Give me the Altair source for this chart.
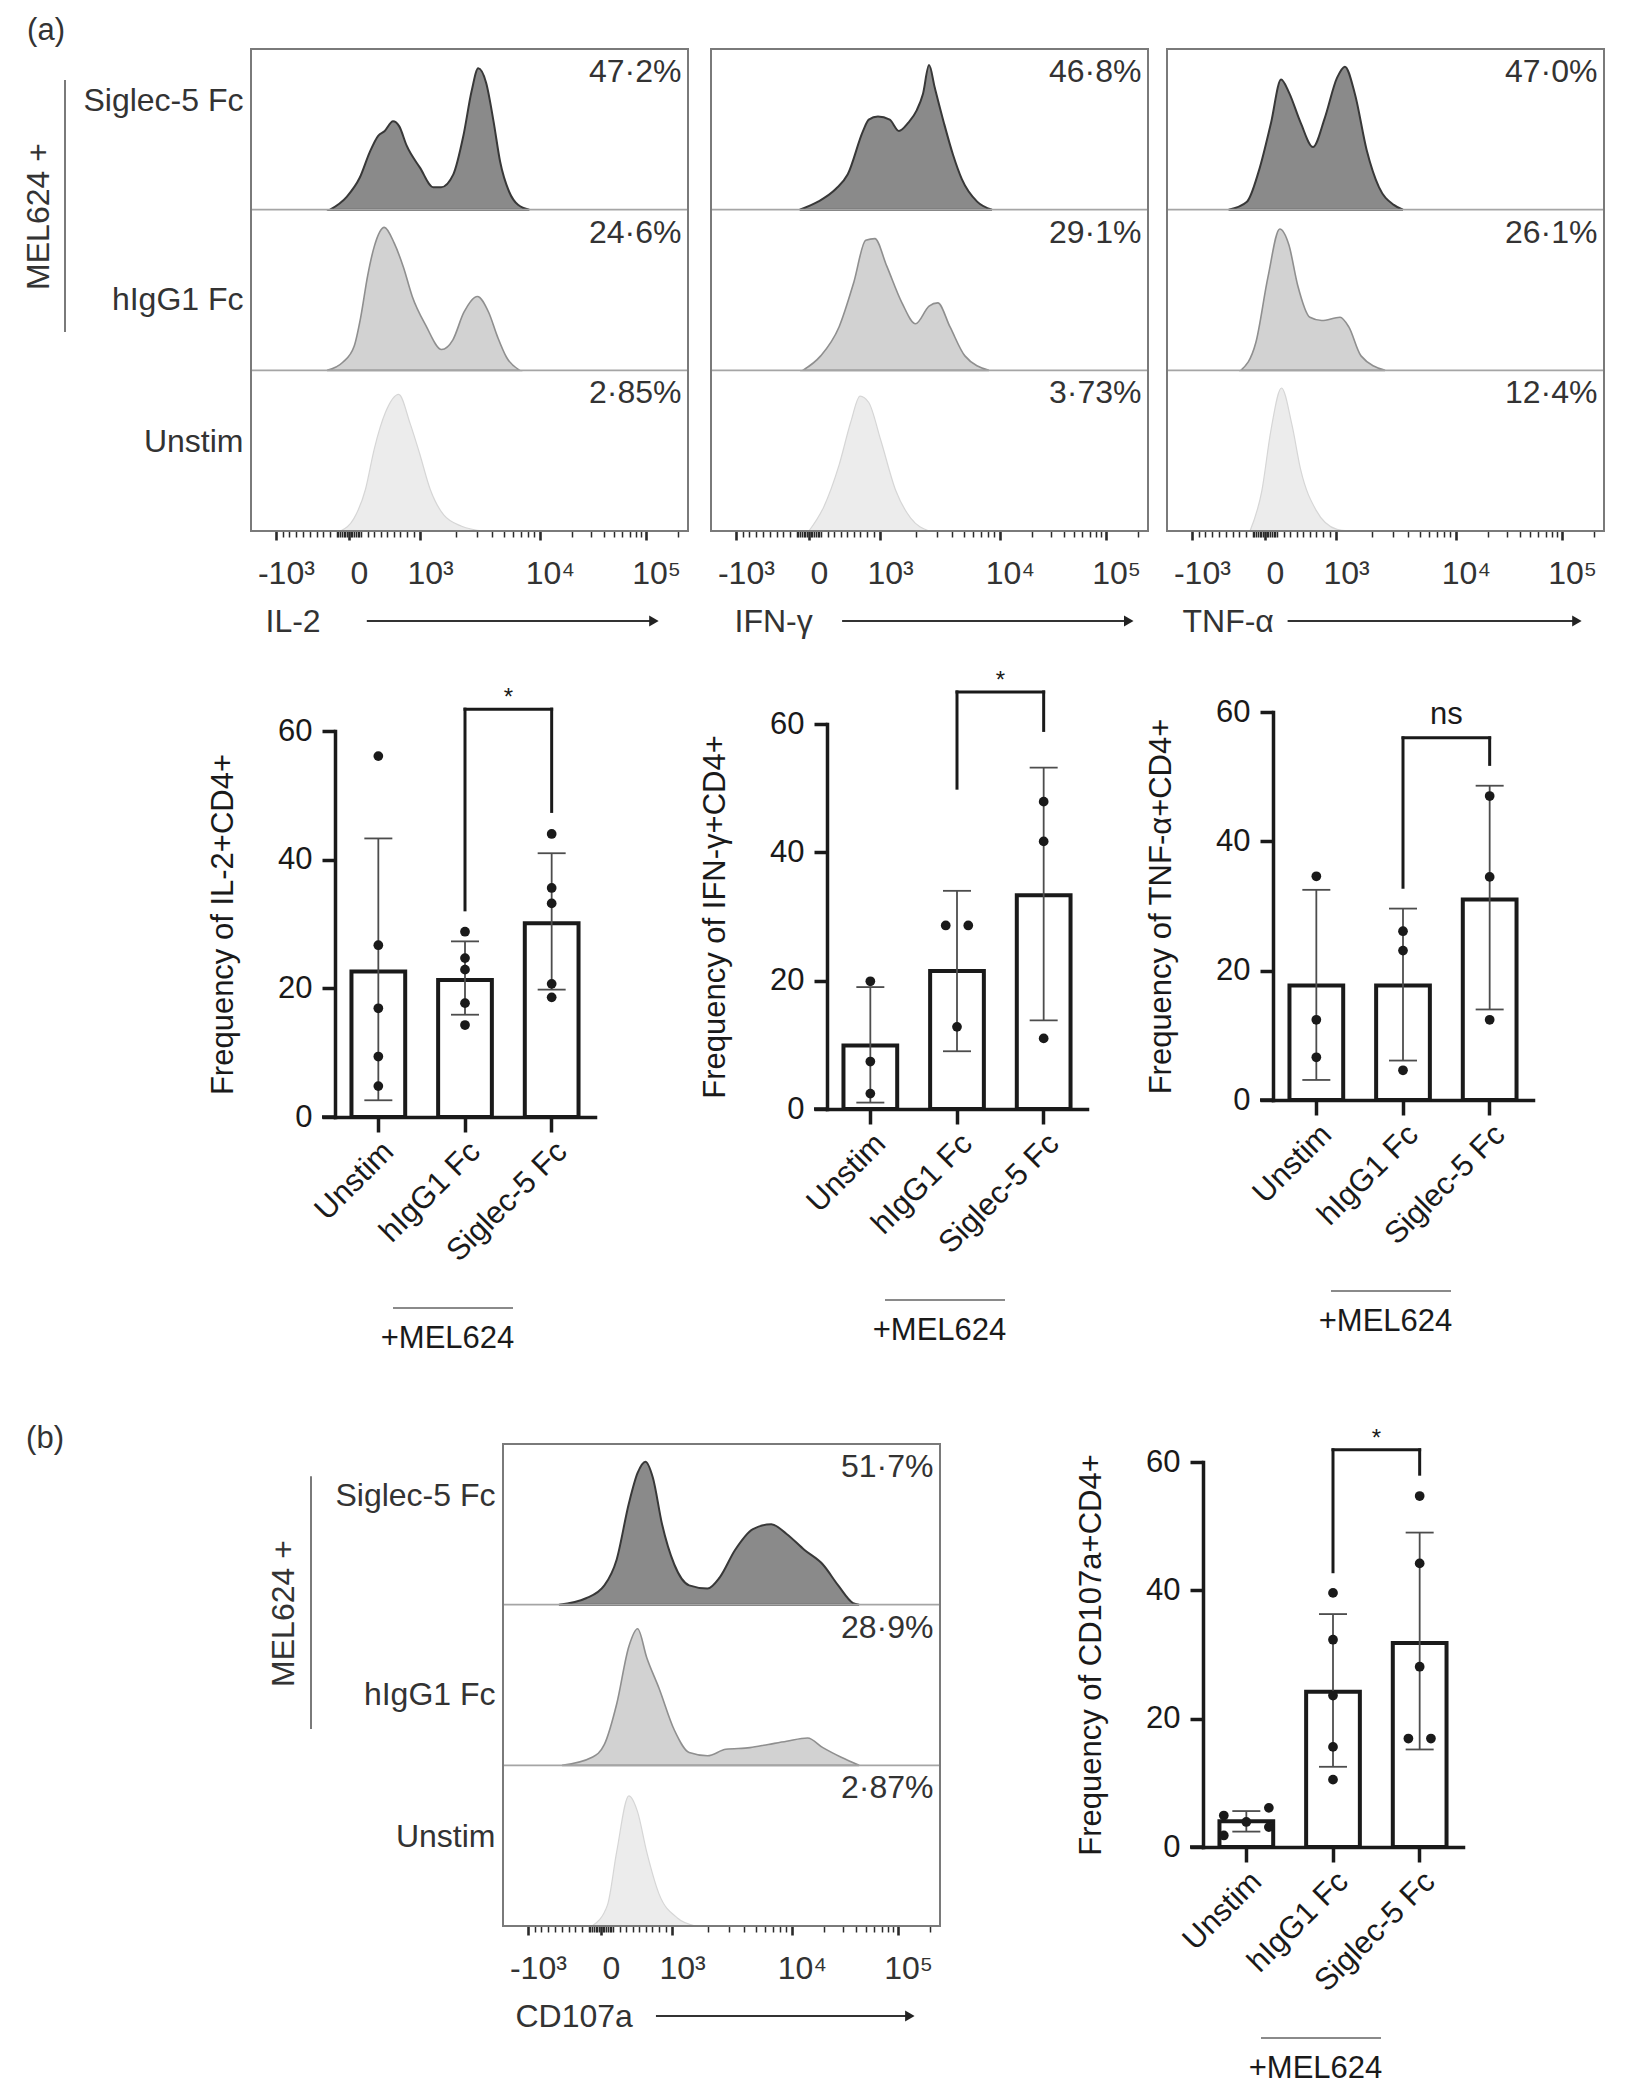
import math
import altair as alt
import pandas as pd

FONT = "Liberation Sans"
DARK = "#333333"
INK = "#1a1a1a"
W_ALL, H_ALL = 1615, 2084

ROW_NAMES = ["Siglec-5 Fc", "hIgG1 Fc", "Unstim"]      # histogram rows, top to bottom
GROUPS = ["Unstim", "hIgG1 Fc", "Siglec-5 Fc"]         # bar order

# ---------------- flow histograms ----------------
# x: display channel across the biexponential axis (0-1000), h: height as share of the row
IL2_SIG_X = [181, 219, 249, 272, 291, 306, 325, 339, 356, 387, 417, 435, 463, 486, 505, 520, 538, 555, 570, 591, 611, 637]
IL2_SIG_H = [0, .08, .20, .36, .46, .49, .55, .52, .40, .26, .14, .14, .22, .46, .74, .88, .79, .55, .30, .11, .03, 0]
IL2_IGG_X = [174, 210, 236, 251, 267, 282, 305, 328, 349, 369, 400, 436, 462, 487, 518, 544, 564, 585, 615]
IL2_IGG_H = [0, .05, .15, .33, .59, .77, .89, .79, .64, .46, .28, .13, .19, .36, .46, .36, .21, .08, 0]
IL2_UNS_X = [205, 236, 262, 282, 308, 338, 364, 385, 410, 441, 482, 533]
IL2_UNS_H = [0, .08, .26, .51, .74, .85, .67, .49, .26, .10, .03, 0]
IL2_PCT = ["47·2%", "24·6%", "2·85%"]

IFN_SIG_X = [203, 245, 286, 313, 348, 361, 382, 409, 430, 451, 471, 485, 499, 512, 533, 554, 574, 609, 643]
IFN_SIG_H = [0, .05, .13, .22, .49, .56, .58, .56, .49, .54, .62, .72, .90, .76, .54, .34, .19, .05, 0]
IFN_IGG_X = [210, 251, 293, 327, 354, 375, 402, 437, 468, 499, 519, 547, 581, 636]
IFN_IGG_H = [0, .09, .27, .55, .81, .82, .65, .42, .29, .40, .42, .27, .09, 0]
IFN_UNS_X = [224, 258, 293, 320, 341, 361, 389, 423, 457, 499]
IFN_UNS_H = [0, .15, .41, .68, .84, .80, .56, .25, .08, 0]
IFN_PCT = ["46·8%", "29·1%", "3·73%"]

TNF_SIG_X = [141, 183, 210, 238, 261, 279, 306, 334, 361, 389, 407, 430, 457, 485, 519, 540]
TNF_SIG_H = [0, .05, .24, .54, .81, .73, .54, .39, .57, .82, .89, .72, .37, .14, .03, 0]
TNF_IGG_X = [169, 203, 231, 258, 279, 299, 327, 354, 396, 416, 444, 499]
TNF_IGG_H = [0, .17, .58, .88, .78, .53, .33, .31, .33, .27, .09, 0]
TNF_UNS_X = [190, 217, 238, 262, 286, 306, 341, 389, 416]
TNF_UNS_H = [0, .25, .63, .89, .66, .38, .13, .01, 0]
TNF_PCT = ["47·0%", "26·1%", "12·4%"]

CD_SIG_X = [128, 190, 232, 260, 288, 308, 326, 343, 364, 392, 426, 468, 496, 531, 572, 614, 649, 690, 732, 767, 801, 815]
CD_SIG_H = [0, .04, .12, .28, .63, .82, .89, .79, .50, .25, .12, .10, .17, .34, .47, .50, .44, .34, .25, .12, .01, 0]
CD_IGG_X = [135, 204, 232, 260, 288, 308, 329, 357, 392, 426, 468, 510, 565, 607, 649, 697, 732, 774, 815]
CD_IGG_H = [0, .05, .13, .38, .74, .85, .67, .48, .22, .08, .06, .10, .11, .13, .15, .17, .11, .05, 0]
CD_UNS_X = [204, 239, 260, 288, 308, 329, 357, 399, 440]
CD_UNS_H = [0, .13, .46, .81, .71, .46, .20, .05, 0]
CD_PCT = ["51·7%", "28·9%", "2·87%"]

# biexponential axis: major ticks (channel) and their labels
MAJOR_TICKS = [57, 224, 387, 661, 904]
MAJOR_LABELS = ["-10³", "0", "10³", "10⁴", "10⁵"]

# ---------------- bar charts ----------------
IL2_MEAN = [22.6, 21.3, 30.1]
IL2_LO = [2.6, 15.9, 19.8]
IL2_HI = [43.3, 27.3, 41.0]
IL2_PTS = [[56.1, 26.7, 16.9, 9.4, 4.8], [28.8, 24.7, 22.9, 17.7, 14.3], [44.0, 35.6, 33.2, 20.7, 18.6]]
IL2_JIT = [[0, 0, 0, 0, 0], [0, 0, 0, 0, 0], [0, 0, 0, 0, 0]]
IL2_BRACKET = ["hIgG1 Fc", "Siglec-5 Fc", 63.4, 32.2, 47.5, "*"]

IFN_MEAN = [9.9, 21.5, 33.3]
IFN_LO = [1.0, 9.0, 13.8]
IFN_HI = [19.0, 34.0, 53.2]
IFN_PTS = [[19.9, 7.4, 2.4], [28.6, 28.6, 12.8], [47.9, 41.7, 11.0]]
IFN_JIT = [[0, 0, 0], [-1, 1, 0], [0, 0, 0]]
IFN_BRACKET = ["hIgG1 Fc", "Siglec-5 Fc", 65.0, 50.0, 59.0, "*"]

TNF_MEAN = [17.7, 17.7, 31.0]
TNF_LO = [3.1, 6.1, 14.0]
TNF_HI = [32.5, 29.6, 48.6]
TNF_PTS = [[34.6, 12.4, 6.6], [26.1, 23.1, 4.6], [47.0, 34.5, 12.4]]
TNF_JIT = [[0, 0, 0], [0, 0, 0], [0, 0, 0]]
TNF_BRACKET = ["hIgG1 Fc", "Siglec-5 Fc", 56.0, 32.9, 51.9, "ns"]

CD_MEAN = [4.0, 24.2, 31.8]
CD_LO = [2.4, 12.5, 15.2]
CD_HI = [5.6, 36.3, 49.0]
CD_PTS = [[4.9, 1.8, 3.9, 6.1, 3.1], [39.6, 32.3, 23.6, 15.6, 10.5], [54.7, 44.2, 28.1, 16.9, 16.9]]
CD_JIT = [[-2, -2, 0, 2, 2], [0, 0, 0, 0, 0], [0, 0, 0, -1, 1]]
CD_BRACKET = ["hIgG1 Fc", "Siglec-5 Fc", 61.9, 42.9, 58.1, "*"]

# ---------------- helpers ----------------
ONE = pd.DataFrame({"k": [0]})

minor = ([round(57 + 15.5 * k, 1) for k in range(1, 10)]
         + [200 + 4 * k for k in range(13) if 200 + 4 * k != 224]
         + [387 - 15 * k for k in range(1, 10)]
         + [round(387 + 274 * math.log10(k), 1) for k in range(2, 10)]
         + [round(661 + 243 * math.log10(k), 1) for k in range(2, 10)]
         + [977])
ALL_TICKS = sorted(set(MAJOR_TICKS + minor))
LABEL_EXPR = " : ".join(f"datum.value == {v} ? '{l}'" for v, l in zip(MAJOR_TICKS, MAJOR_LABELS)) + " : ''"
MAJOR_TEST = "indexof([" + ",".join(str(v) for v in MAJOR_TICKS) + "], datum.value) >= 0"
ROW_LABEL_Y = [2.68, 1.44, 0.56]
ROW_EXPR = "datum.value > 2 ? 'Siglec-5 Fc' : datum.value > 1 ? 'hIgG1 Fc' : 'Unstim'"
GROUP_JS = "[" + ",".join(f"'{g}'" for g in GROUPS) + "]"


def hist_layers(p):
    x0, x1, top, bot = p["frame"]
    xs = alt.Scale(domain=[0, 1000], range=[x0, x1], nice=False, zero=False)
    ys = alt.Scale(domain=[0, 3], range=[bot, top], nice=False, zero=False)
    out = []
    styles = [(2, "#8a8a8a", "#383838", 2.0), (1, "#d2d2d2", "#8f8f8f", 1.6), (0, "#ececec", "#d6d6d6", 1.2)]
    for (cx, ch), (off, fill, stroke, sw) in zip(p["curves"], styles):
        df = pd.DataFrame({"ch": cx, "h": ch})
        out.append(
            alt.Chart(df).transform_calculate(top=f"datum.h + {off}")
            .mark_area(fill=fill, stroke=stroke, strokeWidth=sw, interpolate="monotone", opacity=1)
            .encode(x=alt.X("ch:Q", scale=xs, axis=None),
                    y=alt.Y("top:Q", scale=ys, axis=None),
                    y2=alt.Y2Datum(off)))
    for d in (1, 2):
        out.append(alt.Chart(ONE).mark_rule(color="#a5a5a5", strokeWidth=1.6).encode(
            x=alt.XDatum(0, type="quantitative", scale=xs, axis=None), x2=alt.X2Datum(1000),
            y=alt.YDatum(d, type="quantitative", scale=ys, axis=None)))
    xaxis = alt.Axis(orient="bottom", offset=bot - H_ALL, domain=False, grid=False, values=ALL_TICKS,
                     labelExpr=LABEL_EXPR,
                     tickSize={"condition": {"test": MAJOR_TEST, "value": 9}, "value": 6},
                     tickWidth={"condition": {"test": MAJOR_TEST, "value": 2.6}, "value": 1.5},
                     tickColor="#2a2a2a", labelFontSize=32, labelColor=DARK, labelPadding=18,
                     labelOffset=10, labelOverlap=False, labelFlush=False, labelBound=False,
                     title=p["title"], titleX=x0 + p["title_dx"], titleY=90, titleAlign="left",
                     titleBaseline="middle", titleFontSize=32, titleFontWeight="normal", titleColor=DARK)
    if p["rows"]:
        mcx, mcy = p["mel_center"]
        yaxis = alt.Axis(orient="left", offset=-x0, values=ROW_LABEL_Y, labelExpr=ROW_EXPR, ticks=False,
                         domain=False, grid=False, labelPadding=8, labelFontSize=32, labelColor=DARK,
                         labelLimit=400, title="MEL624 +", titleX=mcx - x0, titleY=mcy, titleAngle=270,
                         titleAlign="center", titleBaseline="middle", titleFontSize=32,
                         titleFontWeight="normal", titleColor=DARK)
    else:
        yaxis = None
    out.append(alt.Chart(ONE).mark_rect(fillOpacity=0, stroke="#7a7a7a", strokeWidth=2).encode(
        x=alt.XDatum(0, type="quantitative", scale=xs, axis=xaxis), x2=alt.X2Datum(1000),
        y=alt.YDatum(0, type="quantitative", scale=ys, axis=yaxis), y2=alt.Y2Datum(3)))
    pct = pd.DataFrame({"pct": p["pct"], "ytop": [3, 2, 1]})
    out.append(alt.Chart(pct).mark_text(align="right", baseline="middle", dy=23, fontSize=32, color=DARK).encode(
        x=alt.XDatum(985, type="quantitative", scale=xs, axis=None),
        y=alt.Y("ytop:Q", scale=ys, axis=None), text="pct:N"))
    a0, a1 = p["arrow"]
    out.append(alt.Chart(ONE).mark_rule(color=DARK, strokeWidth=1.8).encode(
        x=alt.XDatum(a0, type="quantitative", scale=xs, axis=None), x2=alt.X2Datum(a1 - 10),
        y=alt.value(bot + 90)))
    out.append(alt.Chart(ONE).mark_point(shape="triangle-right", filled=True, size=120, color="#222222",
                                         opacity=1, strokeWidth=0).encode(
        x=alt.XDatum(a1 - 12, type="quantitative", scale=xs, axis=None), y=alt.value(bot + 90)))
    if p["rows"]:
        lx, yt, yb = p["mel_line"]
        out.append(alt.Chart(ONE).mark_rule(color="#7a7a7a", strokeWidth=2).encode(
            x=alt.value(lx), y=alt.YDatum(yt, type="quantitative", scale=ys, axis=None), y2=alt.Y2Datum(yb)))
    return out


def bar_layers(b):
    x0, y0, y60 = b["x0"], b["y0"], b["y60"]
    x1 = x0 + 260
    xb = alt.Scale(domain=GROUPS, range=[x0, x1], paddingInner=0.38, paddingOuter=0.19)
    xl = alt.Scale(domain=[0, 3], range=[x0, x1], nice=False, zero=False)
    ys = alt.Scale(domain=[0, 60], range=[y0, y60], nice=False, zero=False)
    out = []
    bars = pd.DataFrame({"group": GROUPS, "mean": b["mean"]})
    xaxis = alt.Axis(orient="bottom", offset=y0 - H_ALL, grid=False, domainColor=INK, domainWidth=3.5,
                     domainCap="square", tickColor=INK, tickWidth=3.5, tickSize=15, labelAngle=315,
                     labelFontSize=31, labelColor=INK, labelPadding=4, labelLimit=400,
                     title="+MEL624", titleX=x0 + 112, titleY=221, titleAlign="center", titleBaseline="middle",
                     titleFontSize=31, titleFontWeight="normal", titleColor=INK)
    yaxis = alt.Axis(orient="left", offset=-x0, values=[0, 20, 40, 60], grid=False, domainColor=INK,
                     domainWidth=3.5, domainCap="square", tickColor=INK, tickWidth=3.5, tickSize=13,
                     labelFontSize=31, labelColor=INK, labelPadding=10,
                     title=b["ytitle"], titleX=-112, titleY=(y0 + y60) / 2, titleAngle=270,
                     titleAlign="center", titleBaseline="middle", titleFontSize=31,
                     titleFontWeight="normal", titleColor=INK)
    out.append(alt.Chart(bars).mark_bar(fill="white", stroke=INK, strokeWidth=4).encode(
        x=alt.X("group:N", sort=GROUPS, scale=xb, axis=xaxis),
        y=alt.Y("mean:Q", scale=ys, axis=yaxis)))
    out.append(alt.Chart(ONE).mark_rule(color=INK, strokeWidth=3.5).encode(
        x=alt.value(x0 - 13), x2=alt.value(x0), y=alt.YDatum(0, type="quantitative", scale=ys, axis=None)))
    err = pd.DataFrame({"group": GROUPS, "lo": b["lo"], "hi": b["hi"]})
    pos = f"indexof({GROUP_JS}, datum.group) + 0.5"
    out.append(alt.Chart(err).transform_calculate(xpos=pos).mark_rule(color="#4d4d4d", strokeWidth=1.8).encode(
        x=alt.X("xpos:Q", scale=xl, axis=None), y=alt.Y("lo:Q", scale=ys, axis=None), y2="hi:Q"))
    out.append(alt.Chart(err).transform_calculate(xpos=pos).transform_fold(["lo", "hi"], as_=["which", "val"])
               .mark_tick(orient="horizontal", size=28, thickness=1.8, color="#4d4d4d", opacity=1).encode(
        x=alt.X("xpos:Q", scale=xl, axis=None), y=alt.Y("val:Q", scale=ys, axis=None)))
    rows = []
    for g, vals, jits in zip(GROUPS, b["pts"], b["jit"]):
        for v, j in zip(vals, jits):
            rows.append({"group": g, "v": v, "jit": j})
    pts = pd.DataFrame(rows)
    out.append(alt.Chart(pts).transform_calculate(xpos=pos + " + datum.jit * 0.13")
               .mark_circle(size=95, color=INK, opacity=1).encode(
        x=alt.X("xpos:Q", scale=xl, axis=None), y=alt.Y("v:Q", scale=ys, axis=None)))
    g1, g2, topv, lb, rb, lab = b["bracket"]
    br = pd.DataFrame({"g1": [g1], "g2": [g2], "top": [topv], "lb": [lb], "rb": [rb], "lab": [lab]})
    calc = dict(xa=f"indexof({GROUP_JS}, datum.g1) + 0.5", xb=f"indexof({GROUP_JS}, datum.g2) + 0.5")
    base = alt.Chart(br).transform_calculate(**calc)
    out.append(base.mark_rule(color=INK, strokeWidth=3, strokeCap="square").encode(
        x=alt.X("xa:Q", scale=xl, axis=None), y=alt.Y("lb:Q", scale=ys, axis=None), y2="top:Q"))
    out.append(base.mark_rule(color=INK, strokeWidth=3, strokeCap="square").encode(
        x=alt.X("xb:Q", scale=xl, axis=None), y=alt.Y("rb:Q", scale=ys, axis=None), y2="top:Q"))
    out.append(base.mark_rule(color=INK, strokeWidth=3, strokeCap="square").encode(
        x=alt.X("xa:Q", scale=xl, axis=None), x2="xb:Q", y=alt.Y("top:Q", scale=ys, axis=None)))
    star = lab == "*"
    out.append(base.transform_calculate(xm="(datum.xa + datum.xb) / 2").mark_text(
        fontSize=24 if star else 31, baseline="alphabetic", dy=-4 if star else -14, color=INK).encode(
        x=alt.X("xm:Q", scale=xl, axis=None), y=alt.Y("top:Q", scale=ys, axis=None), text="lab:N"))
    out.append(alt.Chart(ONE).mark_rule(color="#8a8a8a", strokeWidth=2).encode(
        x=alt.value(x0 + 58), x2=alt.value(x0 + 178), y=alt.value(y0 + 191)))
    return out


hists = [
    dict(frame=(243, 680, 41, 523), curves=[(IL2_SIG_X, IL2_SIG_H), (IL2_IGG_X, IL2_IGG_H), (IL2_UNS_X, IL2_UNS_H)],
         pct=IL2_PCT, title="IL-2", title_dx=14, arrow=(265, 934), rows=True,
         mel_center=(30, 208), mel_line=(57, 2.807, 1.239)),
    dict(frame=(703, 1140, 41, 523), curves=[(IFN_SIG_X, IFN_SIG_H), (IFN_IGG_X, IFN_IGG_H), (IFN_UNS_X, IFN_UNS_H)],
         pct=IFN_PCT, title="IFN-γ", title_dx=23, arrow=(300, 968), rows=False),
    dict(frame=(1159, 1596, 41, 523), curves=[(TNF_SIG_X, TNF_SIG_H), (TNF_IGG_X, TNF_IGG_H), (TNF_UNS_X, TNF_UNS_H)],
         pct=TNF_PCT, title="TNF-α", title_dx=15, arrow=(276, 950), rows=False),
    dict(frame=(495, 932, 1436, 1918), curves=[(CD_SIG_X, CD_SIG_H), (CD_IGG_X, CD_IGG_H), (CD_UNS_X, CD_UNS_H)],
         pct=CD_PCT, title="CD107a", title_dx=12, arrow=(350, 943), rows=True,
         mel_center=(275, 1605), mel_line=(303, 2.80, 1.226)),
]

bars = [
    dict(x0=327, y0=1109, y60=723, mean=IL2_MEAN, lo=IL2_LO, hi=IL2_HI, pts=IL2_PTS, jit=IL2_JIT,
         bracket=IL2_BRACKET, ytitle="Frequency of IL-2+CD4+"),
    dict(x0=819, y0=1101, y60=716, mean=IFN_MEAN, lo=IFN_LO, hi=IFN_HI, pts=IFN_PTS, jit=IFN_JIT,
         bracket=IFN_BRACKET, ytitle="Frequency of IFN-γ+CD4+"),
    dict(x0=1265, y0=1092, y60=704, mean=TNF_MEAN, lo=TNF_LO, hi=TNF_HI, pts=TNF_PTS, jit=TNF_JIT,
         bracket=TNF_BRACKET, ytitle="Frequency of TNF-α+CD4+"),
    dict(x0=1195, y0=1839, y60=1454, mean=CD_MEAN, lo=CD_LO, hi=CD_HI, pts=CD_PTS, jit=CD_JIT,
         bracket=CD_BRACKET, ytitle="Frequency of CD107a+CD4+"),
]

layers = []
for p in hists:
    layers += hist_layers(p)
for b in bars:
    layers += bar_layers(b)
for lab, (lx, ly) in [("(a)", (38, 23)), ("(b)", (37, 1431))]:
    layers.append(alt.Chart(ONE).mark_text(fontSize=31, color=DARK, align="center", baseline="middle").encode(
        x=alt.value(lx), y=alt.value(ly), text=alt.value(lab)))

chart = (alt.layer(*layers)
         .resolve_scale(x="independent", y="independent")
         .properties(width=W_ALL, height=H_ALL, padding=0)
         .configure_view(strokeWidth=0)
         .configure_axis(labelFont=FONT, titleFont=FONT)
         .configure_text(font=FONT))

chart.save("out.html", embed_options={"renderer": "svg", "actions": False})
